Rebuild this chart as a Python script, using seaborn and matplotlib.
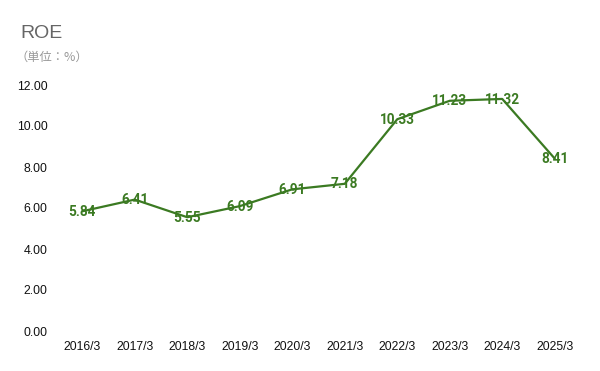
import matplotlib
matplotlib.use("Agg")
import matplotlib.pyplot as plt
import seaborn as sns
import pandas as pd

years = ["2016/3", "2017/3", "2018/3", "2019/3", "2020/3", "2021/3", "2022/3", "2023/3", "2024/3", "2025/3"]
roe = [5.84, 6.41, 5.55, 6.09, 6.91, 7.18, 10.33, 11.23, 11.32, 8.41]
yticks = [0, 2, 4, 6, 8, 10, 12]

sns.set_theme(style="white")
plt.rcParams['font.family'] = ['Liberation Sans', 'Noto Sans CJK JP', 'DejaVu Sans']

df = pd.DataFrame({"year": years, "roe": roe, "x": range(len(years))})

fig = plt.figure(figsize=(6, 3.71), dpi=100)
ax = fig.add_axes([56/600, 40/371, 525/600, 246/371])
sns.lineplot(data=df, x="x", y="roe", ax=ax, color="#3b7a22", linewidth=1.6)
for xi, v in zip(df["x"], roe):
    ax.text(xi, v - 0.03, f"{v:.2f}", ha="center", va="center", color="#3b7a22",
            fontsize=9.8, fontweight="bold", family=["Roboto", "DejaVu Sans"])

ax.set_xlim(-0.5, len(years) - 0.5)
ax.set_ylim(0, 12)
ax.set_xticks(range(len(years)))
ax.set_xticklabels(years)
ax.set_yticks(yticks)
ax.set_yticklabels([f"{t:.2f}" for t in yticks])
ax.tick_params(axis="both", length=0, labelsize=8.8, colors="#111111")
ax.tick_params(axis="y", pad=6)
ax.tick_params(axis="x", pad=7)
ax.set_xlabel("")
ax.set_ylabel("")
for s in ax.spines.values():
    s.set_visible(False)

fig.text(20/600, 1 - 33/371, "ROE", fontsize=14, color="#666666", va="center", ha="left")
fig.text(16/600, 1 - 57/371, "（単位：%）", fontsize=8.8, color="#999999", va="center", ha="left",
         family=["Noto Sans CJK JP", "DejaVu Sans"])

fig.savefig("out.png", dpi=100)
